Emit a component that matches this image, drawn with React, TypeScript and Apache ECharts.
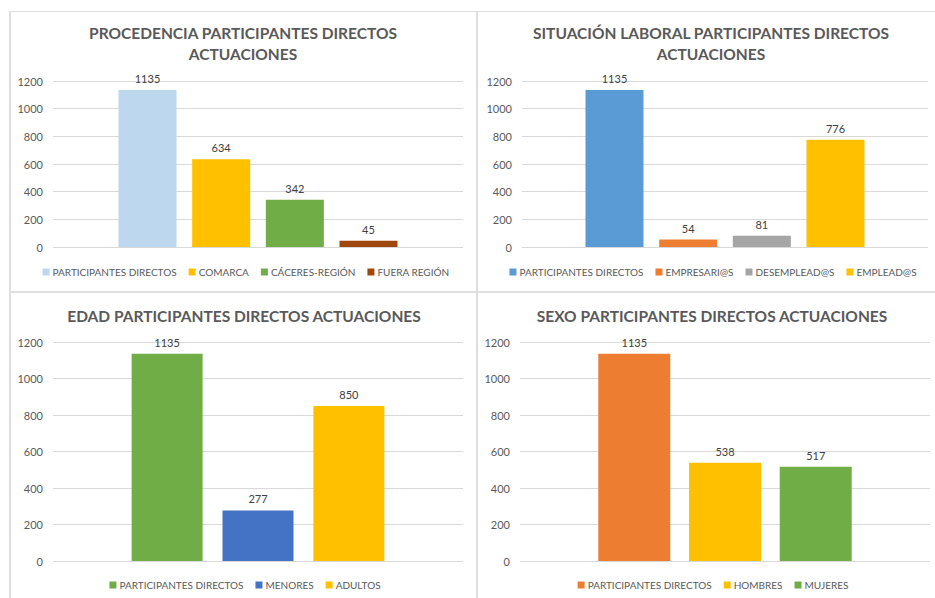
import React, { useEffect, useRef } from "react";
import * as echarts from "echarts";

// ---- data ----
const procedenciaNames = ["PARTICIPANTES DIRECTOS", "COMARCA", "CÁCERES-REGIÓN", "FUERA REGIÓN"];
const procedenciaValues = [1135, 634, 342, 45];
const procedenciaColors = ["#BDD7EE", "#FFC000", "#70AD47", "#9E480E"];

const laboralNames = ["PARTICIPANTES DIRECTOS", "EMPRESARI@S", "DESEMPLEAD@S", "EMPLEAD@S"];
const laboralValues = [1135, 54, 81, 776];
const laboralColors = ["#5B9BD5", "#ED7D31", "#A5A5A5", "#FFC000"];

const edadNames = ["PARTICIPANTES DIRECTOS", "MENORES", "ADULTOS"];
const edadValues = [1135, 277, 850];
const edadColors = ["#70AD47", "#4472C4", "#FFC000"];

const sexoNames = ["PARTICIPANTES DIRECTOS", "HOMBRES", "MUJERES"];
const sexoValues = [1135, 538, 517];
const sexoColors = ["#ED7D31", "#FFC000", "#70AD47"];

const yMin = 0;
const yMax = 1200;
const yInterval = 200;

const FONT = "Lato";

type PanelCfg = {
  title: string;
  titleLeft: number;
  titleTop: number;
  names: string[];
  values: number[];
  colors: string[];
  grid: { left: number; top: number; width: number; height: number };
  legendTop: number;
  barWidth: number;
  barGap: string;
};

function buildOption(p: PanelCfg) {
  return {
    animation: false,
    backgroundColor: "transparent",
    title: {
      text: p.title,
      left: p.titleLeft,
      top: p.titleTop,
      textAlign: "center",
      padding: 0,
      textStyle: {
        fontFamily: FONT,
        fontSize: 15.5,
        fontWeight: "bold",
        color: "#595959",
        lineHeight: 21,
      },
    },
    legend: {
      data: p.names,
      left: "center",
      top: p.legendTop,
      padding: 0,
      itemWidth: 7,
      itemHeight: 7,
      itemGap: 12,
      icon: "rect",
      textStyle: { fontFamily: FONT, fontSize: 10, color: "#595959", padding: [0, 0, 0, -2] },
    },
    grid: { ...p.grid, containLabel: false },
    xAxis: {
      type: "category",
      data: [""],
      axisLine: { show: false },
      axisTick: { show: false },
      axisLabel: { show: false },
    },
    yAxis: {
      type: "value",
      min: yMin,
      max: yMax,
      interval: yInterval,
      axisLine: { show: false },
      axisTick: { show: false },
      axisLabel: {
        fontFamily: FONT,
        fontSize: 11,
        color: "#595959",
        margin: 10,
        formatter: (v: number) => String(v),
      },
      splitLine: { lineStyle: { color: "#D9D9D9", width: 1 } },
    },
    series: p.names.map((n, i) => ({
      type: "bar",
      name: n,
      data: [p.values[i]],
      barWidth: p.barWidth,
      barGap: p.barGap,
      itemStyle: { color: p.colors[i] },
      label: {
        show: true,
        position: "top",
        distance: 6,
        fontFamily: FONT,
        fontSize: 11,
        color: "#404040",
      },
    })),
  };
}

function Chart({ style, cfg }: { style: React.CSSProperties; cfg: PanelCfg }) {
  const ref = useRef<HTMLDivElement>(null);
  useEffect(() => {
    if (!ref.current) return;
    const chart = echarts.init(ref.current, undefined, { renderer: "svg" });
    chart.setOption(buildOption(cfg) as any);
    return () => chart.dispose();
  }, [cfg]);
  return <div ref={ref} style={{ position: "absolute", ...style }} />;
}

const panels: { style: React.CSSProperties; cfg: PanelCfg }[] = [
  {
    style: { left: 0, top: 0, width: 492, height: 292 },
    cfg: {
      title: "PROCEDENCIA PARTICIPANTES DIRECTOS\nACTUACIONES",
      titleLeft: 243,
      titleTop: 22,
      names: procedenciaNames,
      values: procedenciaValues,
      colors: procedenciaColors,
      grid: { left: 53, top: 81, width: 410, height: 166 },
      legendTop: 267,
      barWidth: 58,
      barGap: "27%",
    },
  },
  {
    style: { left: 478, top: 0, width: 470, height: 292 },
    cfg: {
      title: "SITUACIÓN LABORAL PARTICIPANTES DIRECTOS\nACTUACIONES",
      titleLeft: 233,
      titleTop: 22,
      names: laboralNames,
      values: laboralValues,
      colors: laboralColors,
      grid: { left: 44, top: 81, width: 406, height: 166 },
      legendTop: 267,
      barWidth: 58,
      barGap: "27%",
    },
  },
  {
    style: { left: 0, top: 293, width: 490, height: 305 },
    cfg: {
      title: "EDAD PARTICIPANTES DIRECTOS ACTUACIONES",
      titleLeft: 244,
      titleTop: 12,
      names: edadNames,
      values: edadValues,
      colors: edadColors,
      grid: { left: 53, top: 49, width: 410, height: 219 },
      legendTop: 287,
      barWidth: 71,
      barGap: "28%",
    },
  },
  {
    style: { left: 478, top: 293, width: 470, height: 305 },
    cfg: {
      title: "SEXO PARTICIPANTES DIRECTOS ACTUACIONES",
      titleLeft: 234,
      titleTop: 12,
      names: sexoNames,
      values: sexoValues,
      colors: sexoColors,
      grid: { left: 42, top: 49, width: 410, height: 219 },
      legendTop: 287,
      barWidth: 72,
      barGap: "26%",
    },
  },
];

const line = (s: React.CSSProperties): React.CSSProperties => ({
  position: "absolute",
  background: "#DEDEDE",
  ...s,
});

export default function App() {
  return (
    <div
      style={{
        position: "fixed",
        left: 0,
        top: 0,
        width: 935,
        height: 598,
        overflow: "hidden",
        background: "#FFFFFF",
      }}
    >
      <div style={line({ left: 9, top: 11, width: 926, height: 1 })} />
      <div style={line({ left: 9, top: 11, width: 2, height: 587 })} />
      <div style={line({ left: 476, top: 11, width: 2, height: 587 })} />
      <div style={line({ left: 9, top: 291, width: 926, height: 2 })} />
      {panels.map((p, i) => (
        <Chart key={i} style={p.style} cfg={p.cfg} />
      ))}
    </div>
  );
}
